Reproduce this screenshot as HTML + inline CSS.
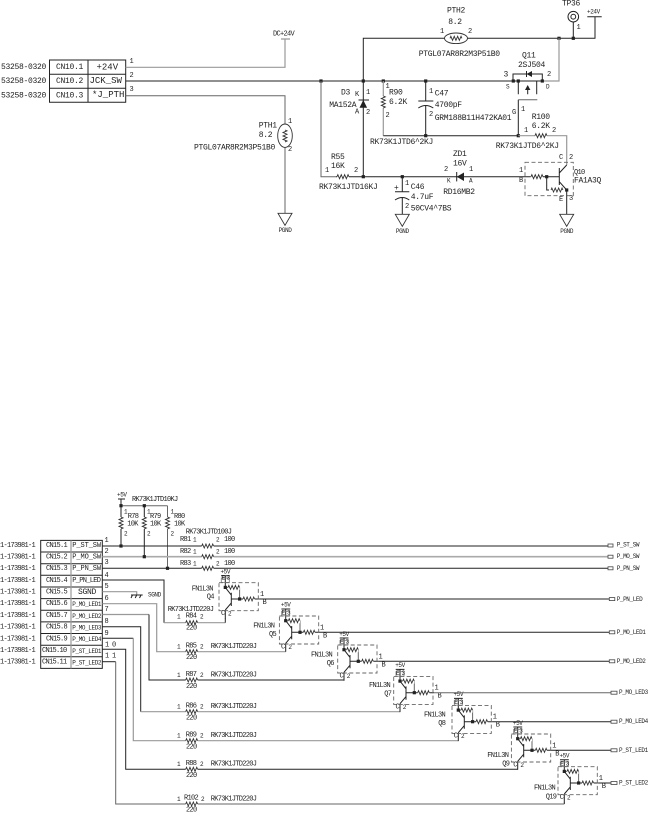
<!DOCTYPE html>
<html><head><meta charset="utf-8"><style>
html,body{margin:0;padding:0;background:#fff;width:648px;height:816px;overflow:hidden}
svg{display:block}
text{font-family:"Liberation Mono",monospace;fill:#222;dominant-baseline:central;white-space:pre}
.m{font-size:8px;letter-spacing:-.3px}
.b{font-size:9px;letter-spacing:0}
.s{font-size:7px;letter-spacing:-.7px}
.t{font-size:6px;letter-spacing:-.4px}
.k{stroke:#222;fill:none;stroke-width:1}
.g{stroke:#999;fill:none;stroke-width:1.2}
.h{stroke:#666;fill:none;stroke-width:1}
.e{text-anchor:middle}
</style></head><body>
<svg width="648" height="816" viewBox="0 0 648 816" xmlns="http://www.w3.org/2000/svg">
<defs>
<rect id="d" x="-1.6" y="-1.6" width="3.2" height="3.2" fill="#222"/>
<g id="rh"><path d="M0 0H12" stroke="#fff" stroke-width="5" fill="none"/><path d="M0 0l.85-2 1.7 4 1.7-4 1.7 4 1.7-4 1.7 4 1.7-4 .85 2" stroke="#333" stroke-width=".9" fill="none"/></g>
<polygon id="gnd" points="-7,0 7,0 0,12" fill="#fff" stroke="#333" stroke-width=".9"/>
<g id="q">
<path class="k" d="M-4.3 -23.3H4.5M0 -23.3V-11.6"/>
<rect x="-4" y="-21" width="8" height="4.5" fill="none" stroke="#777" stroke-width=".8"/>
<path class="h" d="M0 -11.6H2.7M14.3 -11.6V0"/>
<use href="#rh" transform="translate(2.7,-11.6) scale(.97,1)"/>
<use href="#d" x="0" y="-11.6" transform="translate(0,0)"/>
<path class="k" d="M6 -6.3V7M0 -11.6L6 -3.9M6 3.9L0 11M0 11V19.4M6 0H17.7M29.3 0H34.3"/>
<use href="#rh" transform="translate(17.7,0) scale(.97,1)"/>
<use href="#d" x="14.3" y="0"/>
<rect x="-6.3" y="-16.3" width="39.3" height="28" fill="none" stroke="#666" stroke-width=".9" stroke-dasharray="4 2.5"/>
</g>
</defs>

<!-- top connector -->
<path class="k" d="M49.5 60H125.7V102.3H49.5ZM88 60V102.3M49.5 74.3H125.7M49.5 88.3H125.7"/>
<text class="m" x="1" y="67.7">53258-0320</text>
<text class="m" x="1" y="81.7">53258-0320</text>
<text class="m" x="1" y="96">53258-0320</text>
<text class="m" x="56" y="67.5">CN10.1</text>
<text class="m" x="56" y="81.5">CN10.2</text>
<text class="m" x="56" y="96">CN10.3</text>
<text class="b" x="96.5" y="67.5">+24V</text>
<text class="b" x="89.5" y="81">JCK_SW</text>
<text class="b" x="92" y="95" letter-spacing="-.4">*J_PTH</text>
<text class="s" x="129.5" y="62">1</text><text class="s" x="129.5" y="76">2</text><text class="s" x="129.5" y="90">3</text>
<path class="g" d="M125.7 67.3H285V39M281 39H290"/>
<text class="s" x="273" y="34.7">DC+24V</text>
<path class="k" d="M125.7 81H513.3"/>
<path class="h" d="M125.7 95.7H285V213.3"/>
<ellipse cx="285" cy="135.7" rx="7.3" ry="11.7" fill="#fff" stroke="#333" stroke-width=".9"/>
<use href="#rh" transform="translate(285,130) rotate(90)"/>
<use href="#gnd" x="285" y="213.3"/>
<text class="t e" x="285" y="230.5">PGND</text>
<text class="m" x="258.7" y="126">PTH1</text><text class="m" x="258.7" y="135.7">8.2</text>
<text class="m" x="194" y="148">PTGL07AR8R2M3P51B0</text>
<text class="s" x="288" y="122">1</text><text class="s" x="288" y="150">2</text>

<!-- +24V rail -->
<path class="k" d="M363.3 177V38.3H445M467 38.3H595V16.7M587.3 16.7H601.7M573.3 22V38.3"/>
<ellipse cx="456" cy="38.3" rx="11.5" ry="5.3" fill="#fff" stroke="#333" stroke-width=".9"/>
<use href="#rh" transform="translate(450,38.3)"/>
<text class="m e" x="456" y="11">PTH2</text><text class="m e" x="455" y="22.7">8.2</text>
<text class="m" x="418.7" y="54.3">PTGL07AR8R2M3P51B0</text>
<text class="s" x="440" y="32">1</text><text class="s" x="468" y="32">2</text>
<text class="m" x="562" y="4">TP36</text>
<circle cx="573.3" cy="16.7" r="5.3" fill="#fff" stroke="#222" stroke-width="1"/><circle cx="573.3" cy="16.7" r="2.4" fill="none" stroke="#222" stroke-width="1"/>
<text class="s" x="576.5" y="28">1</text>
<text class="t" x="587" y="12">+24V</text>
<use href="#d" x="573.3" y="38.3"/><use href="#d" x="559" y="38.3"/>
<path class="g" d="M559 38.3V81H542.3"/>

<!-- Q11 -->
<text class="m" x="522" y="56">Q11</text><text class="m" x="518" y="65.7">2SJ504</text>
<path class="k" d="M513 81V74H542.3V81M513 81H542.3M518.3 81V94.3M527.7 86V94.3M536.7 81V94.3"/>
<polygon points="526.5,74 532,71 532,77" fill="#222"/><path class="k" d="M526.5 71V77"/>
<polygon points="527.7,85 525,90 530.4,90" fill="#222"/>
<path class="k" d="M518.3 99.7V135.7"/><path class="h" d="M518.3 99.7H537.3"/>
<use href="#d" x="513.3" y="81"/><use href="#d" x="518.3" y="81"/><use href="#d" x="542.3" y="81"/>
<text class="m" x="503.5" y="75">3</text><text class="s" x="547" y="75">2</text>
<text class="t" x="506" y="87">S</text><text class="t" x="546" y="87">D</text>
<text class="s" x="512" y="113">G</text><text class="s" x="521" y="110">1</text>

<use href="#d" x="321" y="81"/><use href="#d" x="363.3" y="81"/><use href="#d" x="383.3" y="81"/><use href="#d" x="425.7" y="81"/>

<!-- D3 -->
<polygon points="363.3,100 359.5,107.7 367.1,107.7" fill="#222"/><path class="k" d="M358.5 100H369"/>
<text class="m" x="341" y="93">D3</text><text class="s" x="355" y="95">K</text><text class="s" x="366" y="93">1</text>
<text class="m" x="329.3" y="105.7">MA152A</text><text class="s" x="355" y="112.7">A</text><text class="s" x="366" y="113">2</text>

<!-- R90, C47 -->
<path class="g" d="M383.3 81V135.7"/><path class="k" d="M383.3 135.7H518.3M425.7 81V101M425.7 106V135.7"/>
<use href="#rh" transform="translate(383.3,96) rotate(90)"/>
<text class="s" x="385.5" y="87">1</text><text class="m" x="389" y="93">R90</text><text class="m" x="389" y="102.7">6.2K</text><text class="s" x="385.5" y="116">2</text>
<path class="k" d="M418.3 101H433.3M418.3 108Q425.7 103 433.3 108"/>
<text class="s" x="429" y="92">1</text><text class="m" x="434.7" y="94">C47</text><text class="m" x="434.7" y="105.7">4700pF</text><text class="s" x="429" y="115">2</text>
<text class="m" x="434.7" y="118.3">GRM188B11H472KA01</text>
<text class="m" x="370" y="142.7">RK73K1JTD6^2KJ</text>
<use href="#d" x="425.7" y="135.7"/><use href="#d" x="518.3" y="135.7"/>

<!-- R100 -->
<path class="g" d="M518.3 135.7H566.7V165"/>
<use href="#rh" transform="translate(535,135.7)"/>
<text class="m" x="531.7" y="117.3">R100</text><text class="s" x="524" y="131">1</text><text class="m" x="531.7" y="126.7">6.2K</text><text class="s" x="552" y="131">2</text>
<text class="m" x="495.7" y="146.7">RK73K1JTD6^2KJ</text>

<!-- R55 line -->
<path class="h" d="M321 81V176.7H336"/><path class="k" d="M336 176.7H530.7"/>
<use href="#rh" transform="translate(337,176.7)"/>
<use href="#d" x="363.3" y="176.7"/><use href="#d" x="402.3" y="176.7"/>
<text class="m" x="331" y="157.3">R55</text><text class="m" x="331" y="166.7">16K</text>
<text class="s" x="325" y="171">1</text><text class="s" x="354" y="171">2</text>
<text class="m" x="319" y="187.7">RK73K1JTD16KJ</text>

<!-- ZD1 -->
<polygon points="456.7,176.7 464,172.5 464,181" fill="#222"/><path class="k" d="M456.7 172V181.4"/>
<text class="m" x="453" y="154.7">ZD1</text><text class="m" x="453" y="164">16V</text>
<text class="s" x="444" y="170">2</text><text class="s" x="469" y="170">1</text>
<text class="t" x="447" y="181">K</text><text class="t" x="469" y="181">A</text>
<text class="m" x="443.3" y="192.7">RD16MB2</text>

<!-- C46 -->
<path class="k" d="M402.3 176.7V191.7M402.3 198V214.3M395 191.7H409.3M395 200Q402.3 195 409.3 200"/>
<use href="#gnd" x="402.3" y="214.3"/><text class="t e" x="402.3" y="231.7">PGND</text>
<text class="m" x="394" y="188.5">+</text>
<text class="s" x="405" y="184">1</text><text class="m" x="410.7" y="187.7">C46</text><text class="m" x="410.7" y="197.3">4.7uF</text><text class="s" x="405" y="207">2</text>
<text class="m" x="410.7" y="209">50CV4^7BS</text>

<!-- Q10 -->
<rect x="525" y="162.3" width="48.3" height="33.4" fill="none" stroke="#666" stroke-width=".9" stroke-dasharray="4 2.5"/>
<use href="#rh" transform="translate(531,176.7)"/>
<path class="k" d="M543 176.7H559.3M546.7 176.7V190H549M559.3 168V185M559.3 173L566.7 165M559.3 181.7L566.7 190V214.3"/>
<use href="#rh" transform="translate(551,190)"/>
<use href="#d" x="546.7" y="176.7"/><use href="#d" x="566.7" y="190"/>
<use href="#gnd" x="566.7" y="214.3"/><text class="t e" x="566.7" y="231.7">PGND</text>
<text class="s" x="519" y="171">1</text><text class="s" x="519" y="181">B</text>
<text class="s" x="559" y="158">C</text><text class="s" x="569" y="158">2</text>
<text class="s" x="559" y="200">E</text><text class="s" x="569" y="199">3</text>
<text class="s" x="574" y="173">Q10</text><text class="m" x="574" y="181">FA1A3Q</text>

<!-- bottom connector -->
<path class="k" d="M40.7 540.4H102.3V668.4H40.7ZM40.7 552H102.3M40.7 563.7H102.3M40.7 575.3H102.3M40.7 587H102.3M40.7 598.6H102.3M40.7 610.2H102.3M40.7 621.9H102.3M40.7 633.5H102.3M40.7 645.2H102.3M40.7 656.8H102.3"/>
<path class="g" d="M71 540.4V668.4"/>
<text class="s" x="0" y="546">1-173981-1</text><text class="s" x="0" y="557.5">1-173981-1</text><text class="s" x="0" y="569">1-173981-1</text><text class="s" x="0" y="581">1-173981-1</text><text class="s" x="0" y="592.5">1-173981-1</text><text class="s" x="0" y="604">1-173981-1</text><text class="s" x="0" y="616">1-173981-1</text><text class="s" x="0" y="627.7">1-173981-1</text><text class="s" x="0" y="639.3">1-173981-1</text><text class="s" x="0" y="651">1-173981-1</text><text class="s" x="0" y="662.5">1-173981-1</text>
<text class="s" x="46" y="546">CN15.1</text><text class="s" x="46" y="557.5">CN15.2</text><text class="s" x="46" y="569">CN15.3</text><text class="s" x="46" y="581">CN15.4</text><text class="s" x="46" y="592.5">CN15.5</text><text class="s" x="46" y="604">CN15.6</text><text class="s" x="46" y="616">CN15.7</text><text class="s" x="46" y="627.7">CN15.8</text><text class="s" x="46" y="639.3">CN15.9</text><text class="s" x="42" y="651">CN15.10</text><text class="s" x="42" y="662.5">CN15.11</text>
<text class="s" x="72.3" y="546" style="letter-spacing:-.1px">P_ST_SW</text>
<text class="s" x="72.3" y="557.5" style="letter-spacing:-.1px">P_MO_SW</text>
<text class="s" x="72.3" y="569" style="letter-spacing:-.1px">P_PN_SW</text>
<text class="s" x="72.3" y="581">P_PN_LED</text>
<text class="m" x="78" y="592.5">SGND</text>
<text class="t" x="72.3" y="604.5">P_MO_LED1</text><text class="t" x="72.3" y="616.5">P_MO_LED2</text><text class="t" x="72.3" y="628">P_MO_LED3</text><text class="t" x="72.3" y="639.5">P_MO_LED4</text><text class="t" x="72.3" y="651.5">P_ST_LED1</text><text class="t" x="72.3" y="663">P_ST_LED2</text>
<text class="s" x="104.5" y="541">1</text><text class="s" x="104.5" y="552">2</text><text class="s" x="104.5" y="563">3</text><text class="s" x="104.5" y="576">4</text><text class="s" x="104.5" y="587">5</text><text class="s" x="104.5" y="599">6</text><text class="s" x="104.5" y="610">7</text><text class="s" x="104.5" y="622">8</text><text class="s" x="104.5" y="634">9</text><text class="s" x="105" y="645.7">1 0</text><text class="s" x="105" y="656.7">1 1</text>

<!-- pull-ups -->
<text class="t" x="117" y="495">+5V</text><path class="k" d="M118 499H125M121 499V505.7"/>
<path class="h" d="M121 505.7H167.5"/>
<path class="k" d="M121 505.7V546M144.3 505.7V556.7"/><path class="h" d="M167.5 505.7V568.3"/>
<use href="#rh" transform="translate(121,517) rotate(90)"/><use href="#rh" transform="translate(144.3,517) rotate(90)"/><use href="#rh" transform="translate(167.5,517) rotate(90)"/>
<use href="#d" x="121" y="505.7"/><use href="#d" x="144.3" y="505.7"/>
<text class="s" x="132" y="500">RK73K1JTD10KJ</text>
<text class="t" x="124" y="512">1</text><text class="s" x="127.7" y="517">R78</text><text class="s" x="127.3" y="524.7">10K</text><text class="t" x="124" y="534">2</text>
<text class="t" x="147" y="512">1</text><text class="s" x="150" y="517">R79</text><text class="s" x="150" y="524.7">10K</text><text class="t" x="147" y="534">2</text>
<text class="t" x="170.5" y="512">1</text><text class="s" x="174" y="517">R80</text><text class="s" x="174" y="524.7">10K</text><text class="t" x="170.5" y="534">2</text>

<!-- main traces -->
<path class="k" d="M102.3 546H608M102.3 568.3H608"/>
<path stroke="#aaa" stroke-width="1.6" fill="none" d="M102.3 556.7H608"/>
<use href="#d" x="121" y="546"/><use href="#d" x="144.3" y="556.7"/><use href="#d" x="167.5" y="568.3"/>
<use href="#rh" transform="translate(201.7,546)"/><use href="#rh" transform="translate(201.7,556.7)"/><use href="#rh" transform="translate(201.7,568.3)"/>
<text class="s" x="185.7" y="532.7">RK73K1JTD100J</text>
<text class="s" x="180" y="540">R81</text><text class="t" x="193" y="540">1</text><text class="t" x="216" y="540">2</text><text class="s" x="224" y="540">100</text>
<text class="s" x="180" y="552">R82</text><text class="t" x="193" y="552">1</text><text class="t" x="216" y="552">2</text><text class="s" x="224" y="552">100</text>
<text class="s" x="180" y="564">R83</text><text class="t" x="193" y="564">1</text><text class="t" x="216" y="564">2</text><text class="s" x="224" y="564">100</text>

<path class="k" d="M102.3 580H164V622.7"/><path class="g" d="M164 622.7H225.3"/>
<path class="g" d="M102.3 591.7H136.7V595"/><path class="k" d="M131 595H142.7M132.5 595L131 598M136.7 595L135.2 598M141 595L139.5 598"/>
<text class="t" x="148" y="595">SGND</text>
<path class="g" d="M102.3 603.7H156.7V651.7H285.7"/>
<path class="g" d="M102.3 614.5H149"/><path class="k" d="M149 614.5V680H344"/>
<path class="k" d="M102.3 626.7H140.7V711.7"/><path class="g" d="M140.7 711.7H400"/>
<path class="k" d="M102.3 638.3H133.3"/><path class="g" d="M133.3 638.3V740.7H458.3"/>
<path class="k" d="M102.3 649.3H125.7V769.3H517.7"/>
<path class="k" d="M102.3 661.7H115.7"/><path class="h" d="M115.7 661.7V804H564.3"/>

<!-- series resistors -->
<use href="#rh" transform="translate(185.7,622.7)"/>
<text class="s" x="167.7" y="610">RK73K1JTD220J</text><text class="t" x="177" y="617">1</text><text class="s" x="185.7" y="616.3">R84</text><text class="t" x="200" y="617">2</text><text class="s" x="186" y="628.5">220</text>
<use href="#rh" transform="translate(185.7,651.7)"/>
<text class="t" x="177" y="647">1</text><text class="s" x="185.7" y="646.5">R85</text><text class="t" x="200" y="647">2</text><text class="s" x="186" y="658">220</text><text class="s" x="210.7" y="647">RK73K1JTD220J</text>
<use href="#rh" transform="translate(185.7,680)"/>
<text class="t" x="177" y="675.5">1</text><text class="s" x="185.7" y="675">R87</text><text class="t" x="200" y="675.5">2</text><text class="s" x="186" y="687">220</text><text class="s" x="210.7" y="675.5">RK73K1JTD220J</text>
<use href="#rh" transform="translate(185.7,711.7)"/>
<text class="t" x="177" y="707">1</text><text class="s" x="185.7" y="706.5">R86</text><text class="t" x="200" y="707">2</text><text class="s" x="186" y="718.5">220</text><text class="s" x="210.7" y="707">RK73K1JTD220J</text>
<use href="#rh" transform="translate(185.7,740.7)"/>
<text class="t" x="177" y="736">1</text><text class="s" x="185.7" y="735.5">R89</text><text class="t" x="200" y="736">2</text><text class="s" x="186" y="747.5">220</text><text class="s" x="210.7" y="736">RK73K1JTD220J</text>
<use href="#rh" transform="translate(185.7,769.3)"/>
<text class="t" x="177" y="764.5">1</text><text class="s" x="185.7" y="764">R88</text><text class="t" x="200" y="764.5">2</text><text class="s" x="186" y="776">220</text><text class="s" x="210.7" y="764.5">RK73K1JTD220J</text>
<use href="#rh" transform="translate(185.7,804)"/>
<text class="t" x="177" y="799.5">1</text><text class="s" x="184" y="798.5">R102</text><text class="t" x="201" y="799.5">2</text><text class="s" x="186" y="810.7">220</text><text class="s" x="210.7" y="799.5">RK73K1JTD220J</text>

<!-- transistors -->
<use href="#q" transform="translate(225.3,599)"/>
<path class="k" d="M225.3 618V622.7"/>
<text class="t e" x="225.3" y="572">+5V</text><text class="t" x="221.5" y="578">E</text><text class="t" x="226.5" y="578">3</text><text class="s" x="221" y="614">C</text><text class="t" x="228" y="614">2</text><text class="s" x="260" y="595">1</text><text class="s" x="262.5" y="603">B</text>
<text class="s" x="191.7" y="589.7">FN1L3N</text><text class="s" x="206.7" y="597.3">Q4</text>

<use href="#q" transform="translate(285.7,632.3)"/>
<text class="t e" x="285.7" y="605">+5V</text><text class="t" x="281.5" y="613">E</text><text class="t" x="287" y="613">3</text><text class="s" x="281" y="647.3">C</text><text class="t" x="288.4" y="647.3">2</text><text class="s" x="320" y="628.3">1</text><text class="s" x="323" y="636.3">B</text>
<text class="s" x="253.3" y="626.7">FN1L3N</text><text class="s" x="269" y="635">Q5</text>

<use href="#q" transform="translate(344,661.3)"/>
<text class="t e" x="344" y="634.3">+5V</text><text class="t" x="340" y="642">E</text><text class="t" x="345.5" y="642">3</text><text class="s" x="339.5" y="676.3">C</text><text class="t" x="346.7" y="676.3">2</text><text class="s" x="378.5" y="657.3">1</text><text class="s" x="381.5" y="665.3">B</text>
<text class="s" x="311" y="655.7">FN1L3N</text><text class="s" x="326.7" y="664">Q6</text>

<use href="#q" transform="translate(400,692.7)"/>
<text class="t e" x="400" y="665.7">+5V</text><text class="t" x="396" y="673.5">E</text><text class="t" x="401.5" y="673.5">3</text><text class="s" x="395.5" y="707.7">C</text><text class="t" x="402.7" y="707.7">2</text><text class="s" x="434.5" y="688.7">1</text><text class="s" x="437.5" y="696.7">B</text>
<text class="s" x="369" y="686">FN1L3N</text><text class="s" x="384.3" y="694.3">Q7</text>

<use href="#q" transform="translate(458.3,721.7)"/>
<text class="t e" x="458.3" y="694.7">+5V</text><text class="t" x="454.3" y="702.5">E</text><text class="t" x="459.8" y="702.5">3</text><text class="s" x="453.8" y="736.7">C</text><text class="t" x="461" y="736.7">2</text><text class="s" x="492.8" y="717.7">1</text><text class="s" x="495.8" y="725.7">B</text>
<text class="s" x="424" y="715.7">FN1L3N</text><text class="s" x="438.3" y="724">Q8</text>

<use href="#q" transform="translate(517.7,750.3)"/>
<text class="t e" x="517.7" y="723.3">+5V</text><text class="t" x="513.7" y="731">E</text><text class="t" x="519.2" y="731">3</text><text class="s" x="513.2" y="765.3">C</text><text class="t" x="520.4" y="765.3">2</text><text class="s" x="552.2" y="746.3">1</text><text class="s" x="555.2" y="754.3">B</text>
<text class="s" x="487.3" y="756">FN1L3N</text><text class="s" x="502.3" y="764.7">Q9</text>

<use href="#q" transform="translate(564.3,783)"/>
<path class="k" d="M564.3 802V804"/>
<text class="t e" x="564.3" y="756">+5V</text><text class="t" x="560.3" y="764">E</text><text class="t" x="565.8" y="764">3</text><text class="s" x="559.8" y="798">C</text><text class="t" x="567" y="798">2</text><text class="s" x="598.8" y="779">1</text><text class="s" x="601.8" y="787">B</text>
<text class="s" x="534" y="788.7">FN1L3N</text><text class="s" x="545.7" y="797.3">Q19</text>

<!-- output traces -->
<path class="k" d="M259.6 599H609.3M320 632.3H609.3M378.3 661.3H609.3M492.6 721.7H611M552 750.3H611M598.6 783H611"/>
<path class="h" d="M434.3 692.7H611"/>
<g fill="#fff" stroke="#444" stroke-width=".8">
<rect x="608" y="544" width="5" height="3"/><rect x="608" y="555.2" width="5" height="3"/><rect x="608" y="566.8" width="5" height="3"/>
<rect x="609.3" y="597.6" width="5.5" height="3"/><rect x="609.3" y="630.8" width="5.5" height="3"/><rect x="609.3" y="659.8" width="5.5" height="3"/>
<rect x="611" y="691.2" width="6" height="3"/><rect x="611" y="720.2" width="6" height="3"/><rect x="611" y="748.8" width="6" height="3"/><rect x="611" y="781.5" width="6" height="3"/>
</g>
<text class="t" x="616.7" y="545">P_ST_SW</text><text class="t" x="616.7" y="556.7">P_MO_SW</text><text class="t" x="616.7" y="568.3">P_PN_SW</text>
<text class="t" x="616.7" y="599.3">P_PN_LED</text><text class="t" x="616.7" y="632.3">P_MO_LED1</text><text class="t" x="616.7" y="661.3">P_MO_LED2</text>
<text class="t" x="619" y="692.7">P_MO_LED3</text><text class="t" x="619" y="721.7">P_MO_LED4</text><text class="t" x="619" y="750.3">P_ST_LED1</text><text class="t" x="619" y="783">P_ST_LED2</text>
</svg>
</body></html>
